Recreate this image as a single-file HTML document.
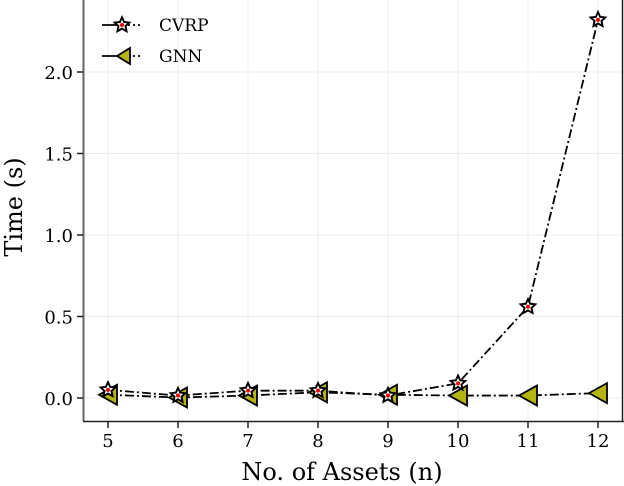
<!DOCTYPE html>
<html><head><meta charset="utf-8"><style>
body{margin:0;background:#fff}
svg{display:block;font-family:"DejaVu Serif","Liberation Serif",serif}
</style></head><body>
<svg id="chart" width="624" height="486" viewBox="0 0 624 486">
<g id="grid"></g>
<line x1="83.5" y1="0" x2="83.5" y2="421" stroke="#666" stroke-width="2"/>
<line x1="83" y1="421.5" x2="624" y2="421.5" stroke="#222" stroke-width="1.5"/>
<line x1="622.5" y1="0" x2="622.5" y2="421" stroke="#222" stroke-width="1.5"/>
<g id="ticks"></g>
<g id="series"></g>
<text x="342" y="480" font-size="24" text-anchor="middle">No. of Assets (n)</text>
<text transform="translate(22,207) rotate(-90)" font-size="24" text-anchor="middle">Time (s)</text>
<g>
<g>
<line x1="102" y1="25" x2="120" y2="25" stroke="#000" stroke-width="1.8"/>
<line x1="128" y1="25" x2="142" y2="25" stroke="#000" stroke-width="1.8" stroke-dasharray="2,3"/>
<polygon id="legstar" fill="#000"/>
<text x="159" y="31" font-size="17">CVRP</text>
</g>
<g>
<line x1="102" y1="56" x2="120" y2="56" stroke="#000" stroke-width="1.8"/>
<line x1="128" y1="56" x2="142" y2="56" stroke="#000" stroke-width="1.8" stroke-dasharray="2,3"/>
<polygon points="117,56 130,48 130,64" fill="#b5b512" stroke="#000" stroke-width="1.8"/>
<text x="159" y="62" font-size="17">GNN</text>
</g>
</g>
</svg>
<script>
const categories=[5,6,7,8,9,10,11,12];
const cvrpValues=[0.05,0.015,0.045,0.045,0.015,0.09,0.56,2.32];
const gnnValues=[0.02,0.003,0.015,0.035,0.02,0.015,0.015,0.03];
const yTicks=[0,0.5,1.0,1.5,2.0];
const yTickLabels=["0.0","0.5","1.0","1.5","2.0"];
const NS="http://www.w3.org/2000/svg";
function xs(v){return 108+(v-5)*70;}
function ys(v){return 398-v*163;}
function mk(tag,attrs,parent){const e=document.createElementNS(NS,tag);for(const k in attrs)e.setAttribute(k,attrs[k]);parent.appendChild(e);return e;}
function starPts(cx,cy,R,r){let p=[];for(let i=0;i<10;i++){const a=-Math.PI/2+i*Math.PI/5;const rr=i%2?r:R;p.push((cx+rr*Math.cos(a)).toFixed(1)+","+(cy+rr*Math.sin(a)).toFixed(1));}return p.join(" ");}
const grid=document.getElementById('grid'),ticks=document.getElementById('ticks'),series=document.getElementById('series');
categories.forEach(c=>{
 const g=mk('line',{x1:xs(c),y1:0,x2:xs(c),y2:421,stroke:'#ececec','stroke-width':1},grid);
 
 
 const t=mk('line',{x1:xs(c),y1:421,x2:xs(c),y2:428,stroke:'#222','stroke-width':1.5},ticks);
 
 
 const l=mk('text',{x:xs(c),y:447,'font-size':18,'text-anchor':'middle'},ticks);l.textContent=c;
 
 
});
yTicks.forEach((v,i)=>{
 const g=mk('line',{x1:84,y1:ys(v),x2:622,y2:ys(v),stroke:'#ececec','stroke-width':1},grid);
 
 
 const t=mk('line',{x1:77,y1:ys(v),x2:83,y2:ys(v),stroke:'#222','stroke-width':1.5},ticks);
 
 
 const l=mk('text',{x:73,y:ys(v)+7,'font-size':18,'text-anchor':'end'},ticks);l.textContent=yTickLabels[i];
 
 
});
function line(vals,name){
 const d=categories.map((c,i)=>(i?'L':'M')+xs(c)+','+ys(vals[i])).join(' ');
 const p=mk('path',{d:d,fill:'none',stroke:'#000','stroke-width':1.8,'stroke-dasharray':'9,3,2,3'},series);
 
 
}
line(cvrpValues,'cvrp-line');line(gnnValues,'gnn-line');
categories.forEach((c,i)=>{
 const x=xs(c),y=ys(gnnValues[i]);
 const t=mk('polygon',{points:`${x-9},${y} ${x+9},${y-10} ${x+9},${y+10}`,fill:'#b5b512',stroke:'#000','stroke-width':1.8},series);
 
 
});
categories.forEach((c,i)=>{
 const x=xs(c),y=ys(cvrpValues[i]);
 const s=mk('polygon',{points:starPts(x,y,10,4.8),fill:'#000'},series);
 
 
 const w=mk('polygon',{points:starPts(x,y,5.5,2.5),fill:'#fff'},series);
 
 
 const r=mk('circle',{cx:x,cy:y,r:2,fill:'#e00'},series);
 
 
});
document.getElementById('legstar').setAttribute('points',starPts(122,25,10,4.8));
const lg=document.getElementById('legstar').parentNode;
mk('polygon',{points:starPts(122,25,5.5,2.5),fill:'#fff'},lg);
mk('circle',{cx:122,cy:25,r:2,fill:'#e00'},lg);
</script>
</body></html>
